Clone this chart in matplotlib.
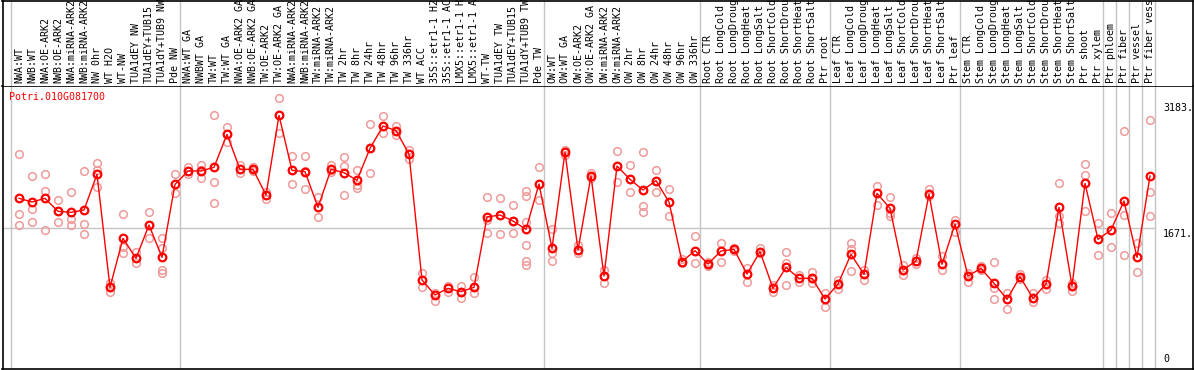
import matplotlib
matplotlib.use("Agg")
import matplotlib.pyplot as plt
import numpy as np

gene = "Potri.010G081700"

labels = [
    "NWA:WT", "NWB:WT", "NWA:OE-ARK2", "NWB:OE-ARK2", "NWA:miRNA-ARK2", "NWB:miRNA-ARK2",
    "NW 0hr", "WT H2O", "WT-NW", "TUA1dEY NW", "TUA1dEY+TUB15", "TUA1dY+TUB9 NW", "Pde NW",
    "NWA:WT GA", "NWBWT GA", "TW:WT", "TW:WT GA", "NWA:OE-ARK2 GA", "NWB:OE-ARK2 GA",
    "TW:OE-ARK2", "TW:OE-ARK2 GA", "NWA:miRNA-ARK2", "NWB:miRNA-ARK2", "TW:miRNA-ARK2",
    "TW:miRNA-ARK2", "TW 2hr", "TW 8hr", "TW 24hr", "TW 48hr", "TW 96hr", "TW 336hr",
    "WT ACC", "35S::etr1-1 H2", "35S::etr1-1 AC", "LMX5::etr1-1 H", "LMX5::etr1-1 A",
    "WT-TW", "TUA1dEY TW", "TUA1dEY+TUB15", "TUA1dY+TUB9 TW", "Pde TW",
    "OW:WT", "OW:WT GA", "OW:OE-ARK2", "OW:OE-ARK2 GA", "OW:miRNA-ARK2", "OW:miRNA-ARK2",
    "OW 2hr", "OW 8hr", "OW 24hr", "OW 48hr", "OW 96hr", "OW 336hr",
    "Root CTR", "Root LongCold", "Root LongDroug", "Root LongHeat", "Root LongSalt",
    "Root ShortCold", "Root ShortDrou", "Root ShortHeat", "Root ShortSalt", "Ptr root",
    "Leaf CTR", "Leaf LongCold", "Leaf LongDroug", "Leaf LongHeat", "Leaf LongSalt",
    "Leaf ShortCold", "Leaf ShortDrou", "Leaf ShortHeat", "Leaf ShortSalt", "Ptr leaf",
    "Stem CTR", "Stem LongCold", "Stem LongDroug", "Stem LongHeat", "Stem LongSalt",
    "Stem ShortCold", "Stem ShortDrou", "Stem ShortHeat", "Stem ShortSalt", "Ptr shoot",
    "Ptr xylem", "Ptr phloem", "Ptr fiber", "Ptr vessel", "Ptr fiber vess",
]

means = [
    2030, 1986, 2030, 1874, 1862, 1890, 2318, 962, 1550, 1310, 1710, 1322, 2198,
    2358, 2358, 2402, 2798, 2378, 2378, 2070, 3026, 2366, 2350, 1922, 2378, 2338,
    2246, 2630, 2898, 2842, 2562, 1050, 870, 950, 910, 962, 1806, 1830, 1758, 1658, 2202,
    1430, 2582, 1410, 2298, 1098, 2418, 2258, 2130, 2242, 1986, 1270, 1402,
    1242, 1398, 1418, 1122, 1390, 950, 1202, 1070, 1070, 822,
    1002, 1358, 1118, 2090, 1910, 1170, 1278, 2078, 1238, 1722,
    1098, 1190, 1010, 818, 1090, 830, 1002, 1922, 978, 2210, 1538,
    1650, 1998, 1322, 2298,
]

reps = [
    [2558, 1838, 1710], [2294, 1906, 1742], [2318, 2118, 1650], [2006, 1878, 1746],
    [2106, 1778, 1710], [2354, 1718, 1602], [2450, 2370, 2170], [1010, 966, 910],
    [1838, 1450, 1378], [1390, 1314, 1250], [1862, 1710, 1550], [1550, 1438, 1170, 1130],
    [2318, 2202, 2090], [2410, 2358, 2318], [2430, 2370, 2270], [3026, 2222, 1970],
    [2882, 2802, 2710], [2430, 2378, 2330], [2406, 2378, 2358], [2110, 2070, 2018],
    [3230, 3030, 2818], [2538, 2370, 2198], [2538, 2358, 2138], [2050, 1922, 1802],
    [2430, 2370, 2350], [2530, 2418, 2066], [2370, 2190, 2150], [2918, 2634, 2338],
    [3018, 2898, 2818], [2898, 2842, 2790], [2610, 2562, 2502], [1138, 1050, 970],
    [898, 870, 802], [978, 954, 910], [982, 910, 830], [1082, 962, 898],
    [2042, 1770, 1610], [2030, 1830, 1602], [1946, 1758, 1610],
    [2122, 2058, 1750, 1470, 1278, 1230], [2402, 2202, 2010],
    [1658, 1370, 1282], [2610, 2582, 2550], [1470, 1410, 1370], [2330, 2298, 2270],
    [1170, 1098, 1010], [2598, 2418, 2230], [2430, 2258, 2110], [2582, 1938, 1866],
    [2370, 2242, 2110], [2142, 1986, 1818], [1302, 1270, 1250], [1578, 1402, 1250],
    [1266, 1242, 1218], [1498, 1398, 1270], [1434, 1418, 1402], [1198, 1122, 1030],
    [1430, 1390, 1370], [990, 950, 910], [1382, 1250, 990], [1110, 1070, 1030],
    [1142, 1070, 1010], [898, 822, 722],
    [1050, 1002, 938], [1490, 1418, 1162], [1170, 1118, 1050], [2178, 2090, 1946],
    [2042, 1850, 1818], [1230, 1170, 1110], [1310, 1278, 1238], [2138, 2078, 2058],
    [1338, 1238, 1170], [1770, 1722, 1630],
    [1130, 1098, 1030], [1218, 1190, 1170], [1270, 950, 818], [890, 818, 698],
    [1122, 1090, 1058], [890, 830, 790], [1050, 1002, 938], [2210, 1818, 1730],
    [1010, 978, 922], [2438, 2310, 1878], [1738, 1538, 1350],
    [1850, 1442], [2838, 1826, 1350], [1490, 1142], [2970, 2102, 1818],
]

# column counts where a new group starts (gray separators)
group_bounds = [0, 13, 41, 53, 63, 73, 84, 85, 86, 87, 88]
ref_values = [3183, 1671, 0]
ref_text = ["3183.", "1671.", "0"]

W, H = 1194, 370
mono = "DejaVu Sans Mono"
fs = 7.2
grey = "#c4c4c4"

fig = plt.figure(figsize=(W / 100, H / 100), dpi=100)
ax = fig.add_axes([2.5 / W, (H - 368.5) / H, 1190 / W, (368.5 - 86) / H])
hx = fig.add_axes([2.5 / W, (H - 86) / H, 1190 / W, (86 - 0.5) / H])

xl = ((2.5 - 19) / 13, (1192.5 - 19) / 13)
x = np.arange(len(labels))

for a in (ax, hx):
    a.set_xlim(*xl)
    a.set_xticks([])
    a.set_yticks([])
    for b in group_bounds:
        a.axvline(b - 0.62, color=grey, lw=1, zorder=0)
    for s in a.spines.values():
        s.set_color("black")
        s.set_linewidth(1.2)
hx.set_ylim(0, 1)
hx.spines["bottom"].set_visible(False)

ax.set_ylim(-12, 3378)
ax.hlines(1671, xl[0], group_bounds[-1] - 0.62, color=grey, lw=1, zorder=0)

# replicates
rx = [i for i, r in enumerate(reps) for v in r]
ry = [v for r in reps for v in r]
ax.plot(rx, ry, ls="none", marker="o", ms=5.5, mfc="none", mec="#f09a9a", mew=1.1, zorder=2)

# means
ax.plot(x, means, color="red", lw=1, zorder=3)
ax.plot(x, means, ls="none", marker="o", ms=5.5, mfc="none", mec="red", mew=1.6, zorder=4)

ax.annotate(gene, xy=(0, 1), xycoords="axes fraction", xytext=(7, -11),
            textcoords="offset pixels", color="red", fontsize=fs, family=mono,
            ha="left", va="center")

for v, t in zip(ref_values, ref_text):
    if v == 0:
        ax.annotate(t, xy=(88.0, v), xytext=(0, 3), textcoords="offset pixels",
                    fontsize=fs, family=mono, ha="left", va="bottom")
    else:
        ax.annotate(t, xy=(88.0, v), xytext=(0, -1), textcoords="offset pixels",
                    fontsize=fs, family=mono, ha="left", va="top")

for i, lab in enumerate(labels):
    hx.annotate(lab, xy=(i, 0), xytext=(0, 3), textcoords="offset pixels",
                rotation=90, ha="center", va="bottom", fontsize=fs, family=mono)

fig.savefig("out.png", dpi=100)
